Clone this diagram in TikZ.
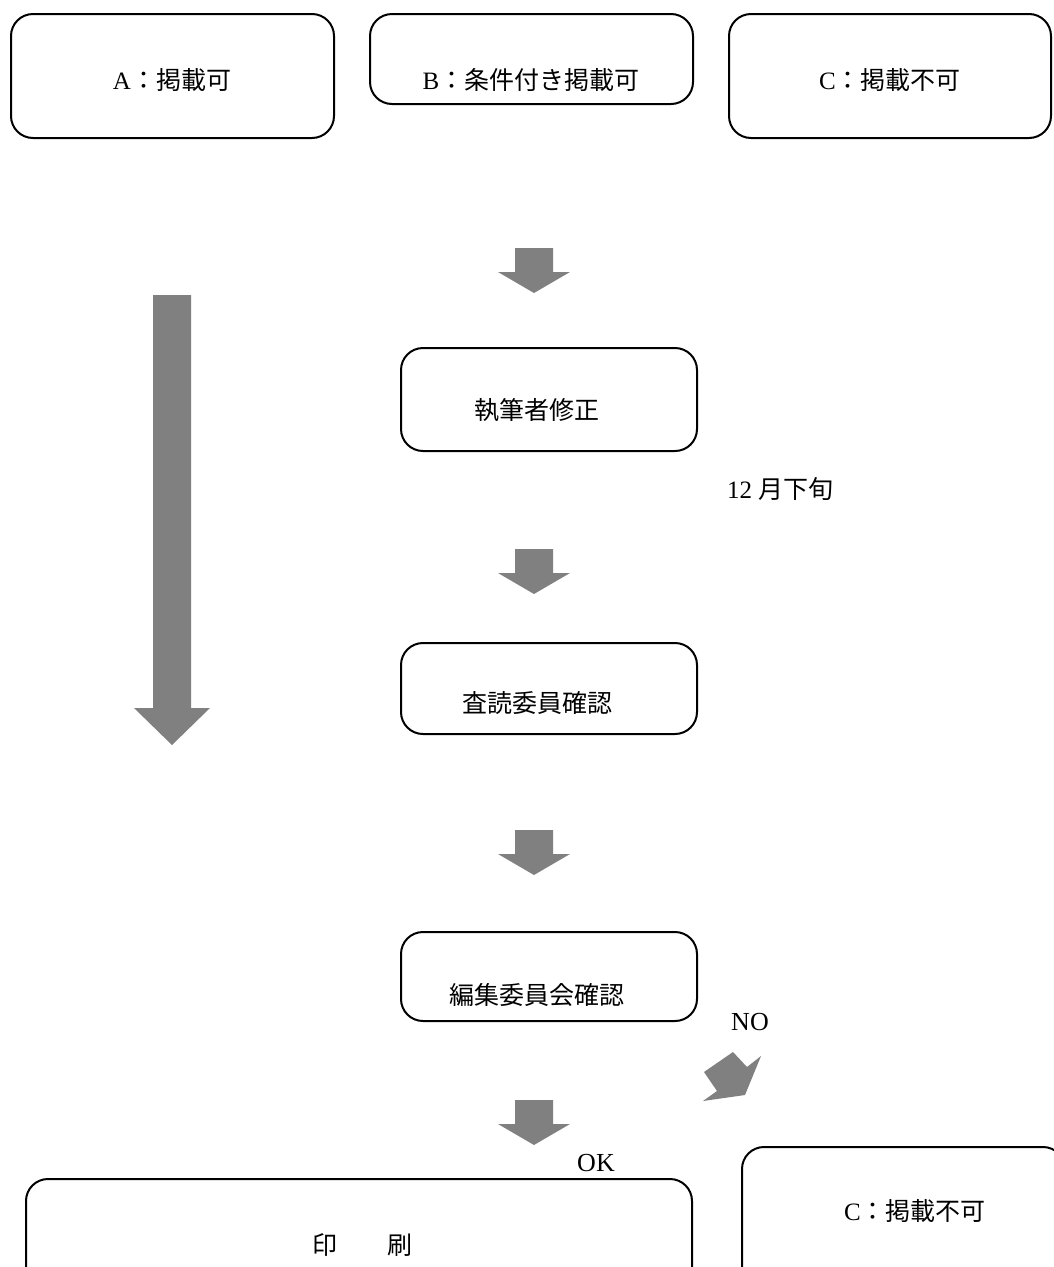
\documentclass[tikz,border=0pt]{standalone}
\usepackage{fontspec}
\setmainfont{Liberation Serif}
\newfontfamily\jp{Noto Sans CJK JP}
\definecolor{arrowgray}{RGB}{128,128,128}
\tikzset{
  box/.style={draw=black, line width=2pt, rounded corners=22pt, inner sep=0pt},
  lbl/.style={font=\fontsize{25}{30}\selectfont, inner sep=0pt},
  latin/.style={font=\fontsize{26}{30}\selectfont, inner sep=0pt},
  blk/.style={fill=arrowgray, draw=none},
  downarr/.pic={\fill[arrowgray] (-19,-45) -- (19,-45) -- (19,-21) -- (36,-21) -- (0,0) -- (-36,-21) -- (-19,-21) -- cycle;}
}
\begin{document}
\begin{tikzpicture}[x=1pt,y=-1pt]
\useasboundingbox (0,0) rectangle (1054,1267);
\clip (0,0) rectangle (1054,1267);
\fill[white] (0,0) rectangle (1054,1267);

% top boxes
\node[box, minimum width=323pt, minimum height=124pt] (boxA) at (172.5,76) {};
\node[box, minimum width=323pt, minimum height=90pt] (boxB) at (531.5,59) {};
\node[box, minimum width=322pt, minimum height=124pt] (boxC) at (890,76) {};
\node[lbl] (tA) at (172,80) {A\jp：掲載可};
\node[lbl] (tB) at (531,80) {B\jp：条件付き掲載可};
\node[lbl] (tC) at (890,80) {C\jp：掲載不可};

% middle boxes
\node[box, minimum width=296pt, minimum height=103pt] (boxS) at (549,399.5) {};
\node[lbl] (tS) at (537,410) {\jp 執筆者修正};
\node[box, minimum width=296pt, minimum height=91pt] (boxR) at (549,688.5) {};
\node[lbl] (tR) at (537,703) {\jp 査読委員確認};
\node[box, minimum width=296pt, minimum height=89pt] (boxE) at (549,976.5) {};
\node[lbl] (tE) at (537,995) {\jp 編集委員会確認};

% bottom boxes
\node[box, minimum width=666pt, minimum height=112pt] (boxP) at (359,1235) {};
\node[lbl] (tP) at (362,1245) {\jp 印　　刷};
\node[box, minimum width=323pt, minimum height=143pt] (boxC2) at (903.5,1218.5) {};
\node[lbl] (tC2) at (915,1211) {C\jp：掲載不可};

% side labels
\node[lbl, anchor=west] (date) at (727,489) {12 {\jp 月下旬}};
\node[latin] (no) at (750,1022) {NO};
\node[latin] (ok) at (596,1163) {OK};

% block arrows
\pic at (534,293) {downarr};
\pic at (534,594) {downarr};
\pic at (534,875) {downarr};
\pic at (534,1145) {downarr};
\fill[blk] (153,295) -- (191,295) -- (191,708) -- (210,708) -- (172,745) -- (134,708) -- (153,708) -- cycle;
\fill[blk] (733,1052) -- (747,1067) -- (761,1056) -- (745,1095) -- (703,1101) -- (717,1091) -- (704,1072) -- cycle;
\end{tikzpicture}
\end{document}
